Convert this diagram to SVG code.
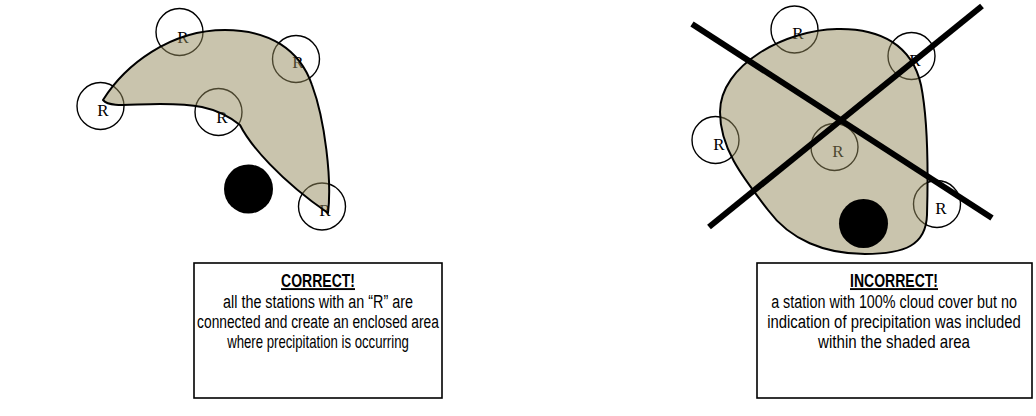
<svg xmlns="http://www.w3.org/2000/svg" width="1036" height="416" viewBox="0 0 1036 416">
<style>
.st{fill:none;stroke:#000;stroke-width:1.4}
.r{font-family:"Liberation Serif","DejaVu Serif",serif;font-size:17px;fill:#000;text-anchor:middle}
.area{fill:#938a5c;fill-opacity:0.5;stroke:#000;stroke-width:2;stroke-linejoin:round}
.dot{fill:#000}
.x{stroke:#000;stroke-width:6;stroke-linecap:butt}
.box{fill:#fff;stroke:#000;stroke-width:1.6}
.h{font-family:"Liberation Sans",Arial,sans-serif;font-size:19px;font-weight:bold;text-anchor:middle;text-decoration:underline}
.t{font-family:"Liberation Sans",Arial,sans-serif;font-size:19px;text-anchor:middle}
</style>
<g id="left-panel">
  <g id="left-stations">
    <circle class="st" cx="179.5" cy="32" r="23.5"/><text class="r" x="183" y="43">R</text>
    <circle class="st" cx="296" cy="59" r="23.5"/><text class="r" x="298" y="68">R</text>
    <circle class="st" cx="100.5" cy="106" r="23.5"/><text class="r" x="103" y="116">R</text>
    <circle class="st" cx="218.5" cy="112" r="23.5"/><text class="r" x="222" y="123">R</text>
    <circle class="st" cx="322" cy="206.5" r="23.5"/><text class="r" x="325" y="216">R</text>
  </g>
  <path id="left-area" class="area" d="M103,100 C125,65 170,30 225,30 C270,30 300,50 312,85 C325,120 332,180 328,213 C280,180 250,145 240,125 C215,105 190,104 160,104 C130,104 110,108 103,100 Z"/>
  <circle id="left-dot" class="dot" cx="248.5" cy="189" r="24.5"/>
</g>
<g id="right-panel">
  <g id="right-stations">
    <circle class="st" cx="794.5" cy="29.5" r="23.5"/><text class="r" x="798" y="39">R</text>
    <circle class="st" cx="911.5" cy="56" r="23.5"/><text class="r" x="915" y="66">R</text>
    <circle class="st" cx="715.5" cy="140" r="23.5"/><text class="r" x="719" y="150">R</text>
    <circle class="st" cx="834.5" cy="147" r="23.5"/><text class="r" x="838" y="157">R</text>
    <circle class="st" cx="937" cy="204" r="23.5"/><text class="r" x="941" y="214">R</text>
  </g>
  <path id="right-area" class="area" d="M837,29 C880,28 912,45 921,85 C929,125 928,180 927,215 C926,245 905,254 865,254 C825,254 790,240 768,210 C745,180 720,150 720,112 C720,65 785,30 837,29 Z"/>
  <circle id="right-dot" class="dot" cx="863.5" cy="223.5" r="24.5"/>
  <g id="cross">
    <line class="x" x1="692" y1="24" x2="992" y2="218"/>
    <line class="x" x1="982" y1="6" x2="709" y2="227"/>
  </g>
</g>
<g id="correct-box">
  <rect class="box" x="194" y="263" width="248" height="135"/>
  <text class="h" transform="translate(318,287) scale(0.738,1)">CORRECT!</text>
  <text class="t" transform="translate(318,308) scale(0.756,1)">all the stations with an “R” are</text>
  <text class="t" transform="translate(318,328) scale(0.725,1)">connected and create an enclosed area</text>
  <text class="t" transform="translate(318,348) scale(0.694,1)">where precipitation is occurring</text>
</g>
<g id="incorrect-box">
  <rect class="box" x="757" y="263" width="275" height="135"/>
  <text class="h" transform="translate(894,287) scale(0.738,1)">INCORRECT!</text>
  <text class="t" transform="translate(894,308) scale(0.756,1)">a station with 100% cloud cover but no</text>
  <text class="t" transform="translate(894,328) scale(0.783,1)">indication of precipitation was included</text>
  <text class="t" transform="translate(894,348) scale(0.795,1)">within the shaded area</text>
</g>
</svg>
